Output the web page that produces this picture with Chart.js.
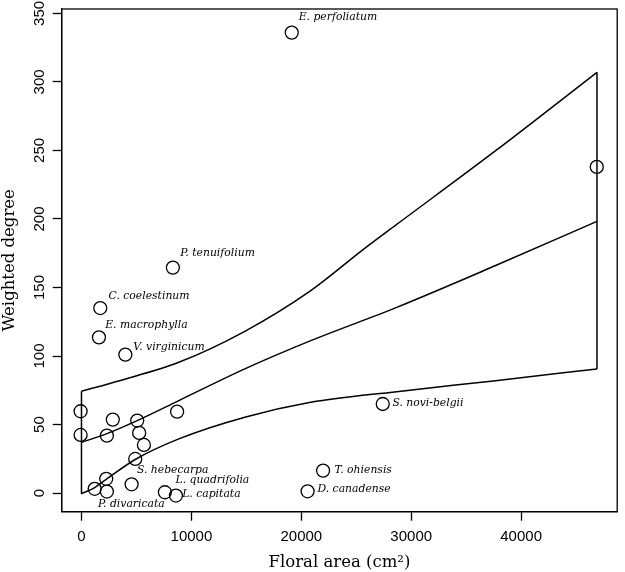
<!DOCTYPE html>
<html>
<head>
<meta charset="utf-8">
<script src="https://cdn.jsdelivr.net/npm/chart.js@4.4.1/dist/chart.umd.min.js"></script>
<style>
  html, body { margin: 0; padding: 0; background: #fff; }
</style>
</head>
<body>
<canvas id="chart" width="625" height="572"></canvas>
<script>
// ===== Floral area vs weighted degree =====

// plant species (floral area in cm2, weighted degree)
const floralArea = [19130, 46880, 8315, 1710, 1590, 3990, -80, -80, 2850, 2310, 5070, 5250,
    5680, 8700, 4890, 2250, 1200, 2310, 4560, 7590, 8590, 21980, 20570, 27410];
const weightedDegree = [336, 238, 164.5, 135, 113.6, 101, 59.7, 42.4, 53.6, 41.9, 52.9, 43.9,
    35.1, 59.4, 24.9, 10.4, 3.1, 1.1, 6.4, 0.6, -1.8, 16.4, 1.3, 65];

// species names and where they sit (data units, left edge of text)
const labelNames = ["E. perfoliatum", "P. tenuifolium", "C. coelestinum", "E. macrophylla",
    "V. virginicum", "S. hebecarpa", "L. quadrifolia", "L. capitata", "P. divaricata",
    "T. ohiensis", "D. canadense", "S. novi-belgii"];
const labelX = [19760, 8990, 2460, 2160, 4710, 5045, 8560, 9160, 1500, 23030, 21470, 28290];
const labelY = [347, 174.7, 144, 122.2, 106.3, 16.4, 9.1, -0.6, -7.9, 16.9, 2.6, 65.5];

// fitted line and confidence band
const fitX = [0, 2250, 5070, 8860, 14860, 20860, 28680, 37680, 46900];
const fitY = [37, 43.2, 52.9, 67.5, 90.6, 111.2, 135.5, 166, 198.2];
const upperX = [0, 3460, 8860, 14860, 20860, 25680, 28680, 37680, 46900];
const upperY = [74.3, 82, 95.4, 118, 147.7, 178, 196, 249.8, 307];
const lowerX = [0, 1200, 2250, 4890, 8860, 14860, 20860, 28680, 37680, 46900];
const lowerY = [-0.5, 4, 10, 24.5, 39.5, 55.3, 66.2, 74, 82, 90.6];

// tick labels
const xTicks = [0, 10000, 20000, 30000, 40000];
const yTicks = [0, 50, 100, 150, 200, 250, 300, 350];

function toPoints(xs, ys) {
    return xs.map((x, i) => ({ x: x, y: ys[i] }));
}

const upperPts = toPoints(upperX, upperY);
const lowerPts = toPoints(lowerX, lowerY);

const lineStyle = {
    showLine: true,
    borderColor: "#000",
    borderWidth: 1.5,
    pointRadius: 0,
    cubicInterpolationMode: "monotone",
    fill: false
};

// box around the plot + species names
const extrasPlugin = {
    id: "extras",
    afterDatasetsDraw(chart) {
        const c = chart.ctx;
        const a = chart.chartArea;
        const xs = chart.scales.x;
        const ys = chart.scales.y;
        c.save();
        c.strokeStyle = "#000";
        c.lineWidth = 1.3;
        c.strokeRect(a.left, a.top, a.right - a.left, a.bottom - a.top);

        c.fillStyle = "#000";
        c.font = "italic 10.8px 'DejaVu Serif'";
        c.textAlign = "left";
        c.textBaseline = "middle";
        labelNames.forEach((name, i) => {
            c.fillText(name, xs.getPixelForValue(labelX[i]), ys.getPixelForValue(labelY[i]));
        });
        c.restore();
    }
};

new Chart(document.getElementById("chart"), {
    type: "scatter",
    data: {
        datasets: [
            {
                label: "species",
                data: toPoints(floralArea, weightedDegree),
                pointRadius: 6.5,
                pointBorderWidth: 1.3,
                pointBorderColor: "#000",
                pointBackgroundColor: "rgba(0,0,0,0)",
                showLine: false
            },
            Object.assign({ label: "fit", data: toPoints(fitX, fitY) }, lineStyle),
            Object.assign({ label: "upper", data: upperPts }, lineStyle),
            Object.assign({ label: "lower", data: lowerPts }, lineStyle),
            Object.assign({ label: "left", data: [lowerPts[0], upperPts[0]] }, lineStyle, { cubicInterpolationMode: "default" }),
            Object.assign({ label: "right", data: [lowerPts[lowerPts.length - 1], upperPts[upperPts.length - 1]] }, lineStyle, { cubicInterpolationMode: "default" })
        ]
    },
    options: {
        responsive: false,
        animation: false,
        layout: { padding: { top: 8.3, right: 2.3, left: 0, bottom: 0 } },
        plugins: {
            legend: { display: false },
            tooltip: { enabled: false }
        },
        scales: {
            x: {
                type: "linear",
                min: -1800,
                max: 48740,
                afterBuildTicks: (s) => { s.ticks = xTicks.map(v => ({ value: v })); },
                afterFit: (s) => { s.height = 60.3; },
                grid: { drawOnChartArea: false, color: "#000", tickLength: 9, tickWidth: 1.3 },
                border: { display: true, color: "#000", width: 1.3 },
                ticks: {
                    color: "#000",
                    padding: 7,
                    maxRotation: 0,
                    font: { family: "'Liberation Sans'", size: 15 },
                    callback: (v) => String(v)
                },
                title: {
                    display: true,
                    text: "Floral area (cm²)",
                    color: "#000",
                    font: { family: "'DejaVu Serif'", size: 16.5, lineHeight: 1.1 },
                    padding: { top: 0, bottom: 0 }
                }
            },
            y: {
                type: "linear",
                min: -13.6,
                max: 353.2,
                afterBuildTicks: (s) => { s.ticks = yTicks.map(v => ({ value: v })); },
                afterFit: (s) => { s.width = 61.7; },
                grid: { drawOnChartArea: false, color: "#000", tickLength: 9, tickWidth: 1.3 },
                border: { display: true, color: "#000", width: 1.3 },
                ticks: {
                    color: "#000",
                    padding: 0,
                    minRotation: 90,
                    maxRotation: 90,
                    crossAlign: "center",
                    font: { family: "'Liberation Sans'", size: 15 }
                },
                title: {
                    display: true,
                    text: "Weighted degree",
                    color: "#000",
                    font: { family: "'DejaVu Serif'", size: 16.5, lineHeight: 1.2 },
                    padding: { top: 0, bottom: 0 }
                }
            }
        }
    },
    plugins: [extrasPlugin]
});
</script>
</body>
</html>
